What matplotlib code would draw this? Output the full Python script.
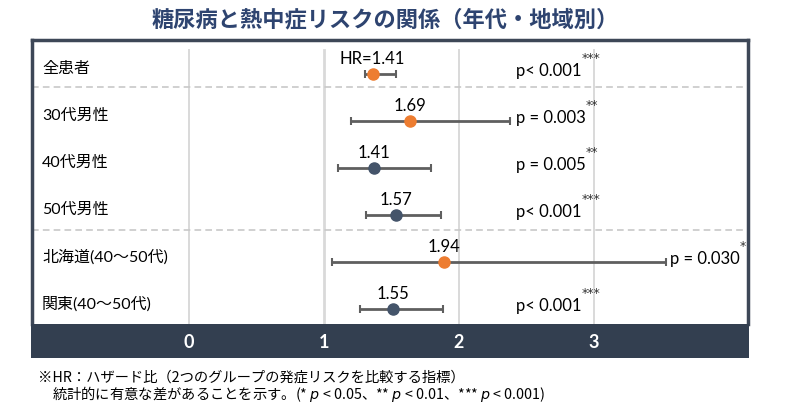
import matplotlib
matplotlib.use("Agg")
import matplotlib.pyplot as plt
import matplotlib.transforms as mtransforms

plt.rcParams["font.family"] = ["Lato", "Noto Sans CJK JP", "DejaVu Sans"]

# データ
grupos = ["全患者", "30代男性", "40代男性", "50代男性", "北海道(40～50代)", "関東(40～50代)"]
hr_texto = ["HR=1.41", "1.69", "1.41", "1.57", "1.94", "1.55"]
hr_punto = [1.36, 1.64, 1.37, 1.53, 1.89, 1.51]
ic_bajo = [1.30, 1.20, 1.10, 1.31, 1.06, 1.27]
ic_alto = [1.53, 2.38, 1.79, 1.87, 3.53, 1.88]
p_texto = ["p< 0.001", "p = 0.003", "p = 0.005", "p< 0.001", "p = 0.030", "p< 0.001"]
estrellas = ["***", "**", "**", "***", "*", "***"]
destacado = [True, True, False, False, True, False]
ticks_x = [0, 1, 2, 3]

naranja = "#ed7d31"
azul = "#44546a"
marco = "#3d4757"
banda = "#333f50"

W, H = 808, 413
fig = plt.figure(figsize=(W / 100, H / 100), dpi=100)

# eje principal: x 32..748 px, y 40..324 px
ax = fig.add_axes([32 / W, 1 - 324 / H, (748 - 32) / W, (324 - 40) / H])
ax.set_xlim((32 - 189) / 135, (748 - 189) / 135)
ax.set_ylim(5.32, -0.72)
ax.set_xticks([])
ax.set_yticks([])
for lado in ["top", "left", "right"]:
    ax.spines[lado].set_color(marco)
    ax.spines[lado].set_linewidth(2.5)
ax.spines["bottom"].set_visible(False)

for t in ticks_x:
    ax.axvline(t, ymin=0, ymax=0.965, color="#d9d9d9",
               lw=2.0 if t == 1 else 1.4, zorder=1)

for y_sep in [0.28, 3.32]:
    ax.axhline(y_sep, color="#c8c8c8", lw=1.2, ls=(0, (4, 2.5)), zorder=1)

trans_izq = mtransforms.blended_transform_factory(ax.transAxes, ax.transData)

for i, g in enumerate(grupos):
    color = naranja if destacado[i] else azul
    ax.errorbar(hr_punto[i], i,
                xerr=[[hr_punto[i] - ic_bajo[i]], [ic_alto[i] - hr_punto[i]]],
                fmt="none", ecolor="#5f5f5f", elinewidth=2, capsize=3,
                capthick=1.5, zorder=2)
    ax.plot(hr_punto[i], i, "o", color=color, ms=8, zorder=3)

    ax.text(0.014, i - 0.1, g, transform=trans_izq, ha="left", va="center",
            fontsize=11.5, color="black")

    ax.annotate(hr_texto[i], (hr_punto[i], i), xytext=(0, 11),
                textcoords="offset points", ha="center", va="center",
                fontsize=12, color="black")

    x_p = max(2.42, ic_alto[i] + 0.03)
    tp = ax.text(x_p, i - 0.06, p_texto[i], ha="left", va="center",
                 fontsize=12, color="black")
    ax.annotate(estrellas[i], xy=(1, 1), xycoords=tp, xytext=(0, 3),
                textcoords="offset points", ha="left", va="center",
                fontsize=9, color="#333333", family="DejaVu Sans")

# banda inferior con las etiquetas del eje
axb = fig.add_axes([31 / W, 1 - 358 / H, (749 - 31) / W, (358 - 324) / H])
axb.set_xlim((31 - 189) / 135, (749 - 189) / 135)
axb.set_ylim(0, 1)
axb.set_facecolor(banda)
axb.set_xticks([])
axb.set_yticks([])
for s in axb.spines.values():
    s.set_visible(False)
for t in ticks_x:
    axb.text(t, 0.45, str(t), ha="center", va="center", color="white",
             fontsize=13, fontweight="bold")

fig.text(385 / W, 1 - 20 / H, "糖尿病と熱中症リスクの関係（年代・地域別）",
         ha="center", va="center", fontsize=16, fontweight="bold",
         color="#2e4470", family=["Noto Sans CJK JP", "DejaVu Sans"])

fig.text(38 / W, 1 - 378 / H, "※HR：ハザード比（2つのグループの発症リスクを比較する指標）",
         ha="left", va="center", fontsize=10.3, color="black",
         family=["Noto Sans CJK JP", "DejaVu Sans"])
fig.text(52 / W, 1 - 394 / H,
         "統計的に有意な差があることを示す。(* $p$ < 0.05、** $p$ < 0.01、*** $p$ < 0.001)",
         ha="left", va="center", fontsize=10.3, color="black",
         family=["Noto Sans CJK JP", "DejaVu Sans"])

fig.savefig("out.png", dpi=100)
